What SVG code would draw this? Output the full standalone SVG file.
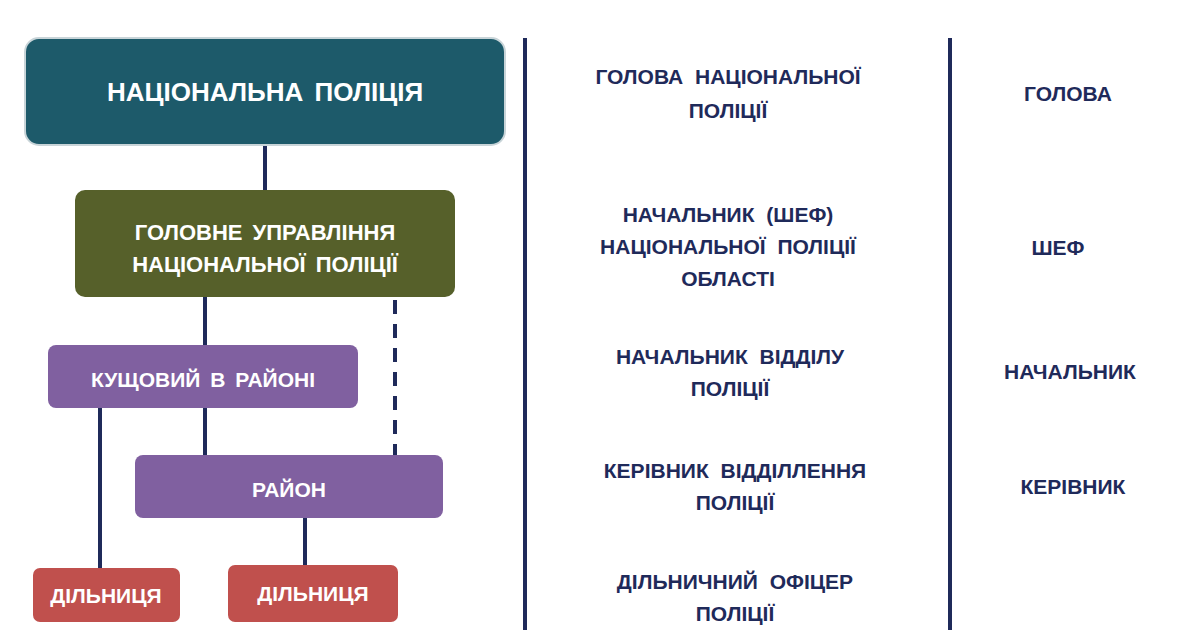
<svg xmlns="http://www.w3.org/2000/svg" width="1200" height="630" viewBox="0 0 1200 630">
<style>
.w{fill:#fff;font-family:"Liberation Sans",Arial,sans-serif;font-weight:bold;text-anchor:middle;word-spacing:4px}
.n{fill:#1f2a5a;font-family:"Liberation Sans",Arial,sans-serif;font-weight:bold;text-anchor:middle;font-size:21px;word-spacing:6px}
.c{stroke:#1f2a5a;stroke-width:4;fill:none}
</style>
<rect width="1200" height="630" fill="#fff"/>
<g id="connectors">
<line class="c" x1="265" y1="145" x2="265" y2="190"/>
<line class="c" x1="205" y1="297" x2="205" y2="345"/>
<line class="c" x1="395" y1="300" x2="395" y2="455" stroke-dasharray="14,10"/>
<line class="c" x1="205" y1="408" x2="205" y2="455"/>
<line class="c" x1="100" y1="408" x2="100" y2="568"/>
<line class="c" x1="305" y1="518" x2="305" y2="565"/>
<line class="c" x1="525" y1="38" x2="525" y2="630" stroke-width="3"/>
<line class="c" x1="950" y1="38" x2="950" y2="630" stroke-width="3"/>
</g>
<g id="n1"><rect x="25" y="38" width="480" height="107" rx="14" fill="#1d5a6a" stroke="#c8d4d8" stroke-width="2"/><text class="w" x="265" y="101" font-size="26">НАЦІОНАЛЬНА ПОЛІЦІЯ</text></g>
<g id="n2"><rect x="75" y="190" width="380" height="107" rx="10" fill="#56602a"/><text class="w" x="265" y="240" font-size="22">ГОЛОВНЕ УПРАВЛІННЯ</text><text class="w" x="265" y="272" font-size="22">НАЦІОНАЛЬНОЇ ПОЛІЦІЇ</text></g>
<g id="n3"><rect x="48" y="345" width="310" height="63" rx="8" fill="#8060a0"/><text class="w" x="203" y="387" font-size="21">КУЩОВИЙ В РАЙОНІ</text></g>
<g id="n4"><rect x="135" y="455" width="308" height="63" rx="8" fill="#8060a0"/><text class="w" x="289" y="497" font-size="21">РАЙОН</text></g>
<g id="n5"><rect x="33" y="568" width="147" height="54" rx="7" fill="#c0504d"/><text class="w" x="106" y="603" font-size="21">ДІЛЬНИЦЯ</text></g>
<g id="n6"><rect x="228" y="565" width="170" height="57" rx="7" fill="#c0504d"/><text class="w" x="313" y="601" font-size="21">ДІЛЬНИЦЯ</text></g>
<g id="mid">
<text class="n" x="728" y="84" font-size="24">ГОЛОВА НАЦІОНАЛЬНОЇ</text>
<text class="n" x="728" y="118" font-size="24">ПОЛІЦІЇ</text>
<text class="n" x="728" y="222">НАЧАЛЬНИК (ШЕФ)</text>
<text class="n" x="728" y="254">НАЦІОНАЛЬНОЇ ПОЛІЦІЇ</text>
<text class="n" x="728" y="286">ОБЛАСТІ</text>
<text class="n" x="730" y="364">НАЧАЛЬНИК ВІДДІЛУ</text>
<text class="n" x="730" y="396">ПОЛІЦІЇ</text>
<text class="n" x="735" y="478">КЕРІВНИК ВІДДІЛЛЕННЯ</text>
<text class="n" x="735" y="510">ПОЛІЦІЇ</text>
<text class="n" x="735" y="589">ДІЛЬНИЧНИЙ ОФІЦЕР</text>
<text class="n" x="735" y="621">ПОЛІЦІЇ</text>
</g>
<g id="right">
<text class="n" x="1068" y="101" font-size="24">ГОЛОВА</text>
<text class="n" x="1058" y="255">ШЕФ</text>
<text class="n" x="1070" y="379">НАЧАЛЬНИК</text>
<text class="n" x="1073" y="494">КЕРІВНИК</text>
</g>
</svg>
